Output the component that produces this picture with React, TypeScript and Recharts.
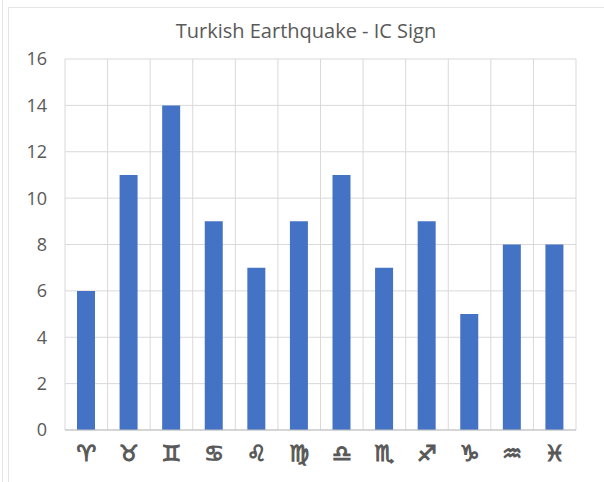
import { Bar, BarChart, CartesianGrid, XAxis, YAxis } from 'recharts';

const SIGNS = ['♈', '♉', '♊', '♋', '♌', '♍', '♎', '♏', '♐', '♑', '♒', '♓'];
const COUNTS = [6, 11, 14, 9, 7, 9, 11, 7, 9, 5, 8, 8];
const Y_TICKS = [0, 2, 4, 6, 8, 10, 12, 14, 16];

const FONT = '"Open Sans", "Liberation Sans", sans-serif';
const TEXT = '#595959';
const GRID = '#d9d9d9';

const data = SIGNS.map((sign, i) => ({ sign: sign + '\uFE0E', count: COUNTS[i] }));

// gridlines sit between the categories, not on them
const categoryEdges = ({ offset }: { offset: { left: number; width: number } }) =>
  [...SIGNS, ''].map((_, i) => offset.left + (i * offset.width) / SIGNS.length);

export default function App() {
  return (
    <div style={{ position: 'absolute', left: 0, top: 0, width: 604, height: 482, background: '#fff', overflow: 'hidden' }}>
      {/* outer frame of the screenshot */}
      <div style={{ position: 'absolute', left: 2, top: 0, width: 1, height: 482, background: '#e4e4e4' }} />
      <div style={{ position: 'absolute', left: 8, top: 7, width: 596, height: 1, background: '#e4e4e4' }} />
      <div style={{ position: 'absolute', left: 8, top: 7, width: 1, height: 475, background: '#e4e4e4' }} />
      <div
        style={{
          position: 'absolute',
          top: 17,
          left: 0,
          width: 612,
          textAlign: 'center',
          fontFamily: FONT,
          fontSize: 20,
          color: TEXT,
          lineHeight: '28px',
        }}
      >
        Turkish Earthquake - IC Sign
      </div>
      <BarChart
        width={604}
        height={482}
        data={data}
        barSize={18}
        margin={{ top: 59, right: 28, bottom: 0, left: 0 }}
        style={{ position: 'absolute', left: 0, top: 0 }}
      >
        <CartesianGrid stroke={GRID} strokeWidth={1} verticalCoordinatesGenerator={categoryEdges} />
        <XAxis
          dataKey="sign"
          interval={0}
          height={52}
          tickLine={false}
          axisLine={{ stroke: '#bfbfbf' }}
          tickMargin={9}
          tick={{ fill: TEXT, stroke: TEXT, strokeWidth: 1.1, fontSize: 22, fontFamily: '"DejaVu Sans"' }}
        />
        <YAxis
          width={65}
          domain={[0, 16]}
          ticks={Y_TICKS}
          interval={0}
          tickLine={false}
          axisLine={false}
          tickMargin={12}
          tick={{ fill: TEXT, fontSize: 18, fontFamily: FONT }}
        />
        <Bar dataKey="count" fill="#4472c4" isAnimationActive={false} />
      </BarChart>
    </div>
  );
}
